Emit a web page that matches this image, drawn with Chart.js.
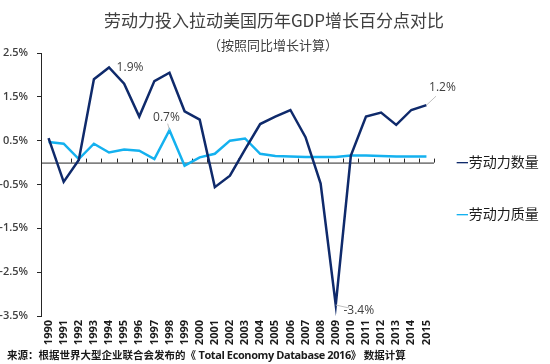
<!DOCTYPE html>
<html>
<head>
<meta charset="utf-8">
<script src="https://cdn.jsdelivr.net/npm/chart.js@4.4.1/dist/chart.umd.min.js"></script>
<style>
    body { margin: 0; background: #fff; }
    #wrap { position: relative; width: 550px; height: 364px; overflow: hidden; }
    #chart { position: absolute; left: 0; top: 0; }
    .txt { position: absolute; white-space: nowrap; font-family: "Noto Sans CJK SC", sans-serif; color: #404040; }
    #title { left: 0; width: 548px; top: 9px; text-align: center; font-size: 17px; line-height: 22px; }
    #subtitle { left: 0; width: 546px; top: 36px; text-align: center; font-size: 13px; line-height: 18px; }
    #source { left: 7px; top: 347px; font-size: 10.5px; font-weight: bold; color: #1a1a1a; line-height: 16px; }
    #source .lat { font-family: "Open Sans", sans-serif; font-size: 11px; letter-spacing: -0.4px; }
    .legend { left: 456px; font-size: 14px; line-height: 18px; color: #1a1a1a; }
    .legend span { font-weight: bold; }
</style>
</head>
<body>
<div id="wrap">
    <canvas id="chart" width="550" height="364"></canvas>
    <div class="txt" id="title">劳动力投入拉动美国历年GDP增长百分点对比</div>
    <div class="txt" id="subtitle">（按照同比增长计算）</div>
    <div class="txt legend" style="top:152px"><span style="color:#0f2a6b">—</span>劳动力数量</div>
    <div class="txt legend" style="top:204px"><span style="color:#14b1ef">—</span>劳动力质量</div>
    <div class="txt" id="source">来源：根据世界大型企业联合会发布的《<span class="lat"> Total Economy Database 2016</span>》 数据计算</div>
</div>
<script>
const years = ['1990', '1991', '1992', '1993', '1994', '1995', '1996', '1997', '1998', '1999',
    '2000', '2001', '2002', '2003', '2004', '2005', '2006', '2007', '2008', '2009',
    '2010', '2011', '2012', '2013', '2014', '2015'];

// 劳动力数量
const laborQuantity = [0.56, -0.44, 0.06, 1.90, 2.17, 1.80, 1.05, 1.86, 2.05, 1.17,
    0.98, -0.56, -0.30, 0.30, 0.88, 1.05, 1.20, 0.58, -0.48, -3.25,
    0.16, 1.05, 1.14, 0.86, 1.20, 1.31];

// 劳动力质量
const laborQuality = [0.47, 0.43, 0.08, 0.43, 0.23, 0.30, 0.27, 0.08, 0.74, -0.07,
    0.12, 0.20, 0.50, 0.55, 0.20, 0.15, 0.14, 0.13, 0.13, 0.13,
    0.16, 0.16, 0.15, 0.14, 0.14, 0.14];

const yTicks = [-3.5, -2.5, -1.5, -0.5, 0.5, 1.5, 2.5];

// callout labels: [series, index, text, dx, dy, leader]
const callouts = [
    [0, 4, '1.9%', 21, 0, false],
    [1, 8, '0.7%', -3, -13, true],
    [0, 25, '1.2%', 16, -18, true],
    [0, 19, '-3.4%', 23, 6, true]
];

const zeroLine = {
    id: 'zeroLine',
    beforeDatasetsDraw(chart) {
        const { ctx, chartArea, scales } = chart;
        const y0 = scales.y.getPixelForValue(0);
        const half = (scales.x.getPixelForValue(1) - scales.x.getPixelForValue(0)) / 2;
        ctx.save();
        ctx.strokeStyle = '#262626';
        ctx.lineWidth = 1;
        ctx.beginPath();
        ctx.moveTo(chartArea.left, y0 + 0.5);
        ctx.lineTo(chartArea.right, y0 + 0.5);
        for (let i = 0; i < years.length; i++) {
            const x = Math.round(scales.x.getPixelForValue(i) + half) + 0.5;
            ctx.moveTo(x, y0);
            ctx.lineTo(x, y0 - 4);
        }
        ctx.stroke();
        ctx.restore();
    },
    afterDatasetsDraw(chart) {
        const { ctx } = chart;
        ctx.save();
        ctx.font = '12px "Open Sans", sans-serif';
        ctx.fillStyle = '#404040';
        ctx.textAlign = 'center';
        ctx.textBaseline = 'middle';
        callouts.forEach(([ds, idx, text, dx, dy, leader]) => {
            const pt = chart.getDatasetMeta(ds).data[idx];
            if (leader) {
                ctx.strokeStyle = '#bfbfbf';
                ctx.lineWidth = 1;
                ctx.beginPath();
                ctx.moveTo(pt.x, pt.y);
                ctx.lineTo(pt.x + dx * 0.6, pt.y + dy * 0.5);
                ctx.stroke();
            }
            ctx.fillText(text, pt.x + dx, pt.y + dy);
        });
        ctx.restore();
    }
};

new Chart(document.getElementById('chart').getContext('2d'), {
    type: 'line',
    data: {
        labels: years,
        datasets: [
            {
                label: '劳动力数量',
                data: laborQuantity,
                borderColor: '#0f2a6b',
                borderWidth: 2.5,
                pointRadius: 0,
                tension: 0
            },
            {
                label: '劳动力质量',
                data: laborQuality,
                borderColor: '#14b1ef',
                borderWidth: 2.5,
                pointRadius: 0,
                tension: 0
            }
        ]
    },
    options: {
        responsive: false,
        animation: false,
        layout: {
            padding: { top: 53, right: 116, left: 0, bottom: 0 }
        },
        plugins: {
            legend: { display: false },
            tooltip: { enabled: false }
        },
        scales: {
            x: {
                offset: true,
                grid: { display: false, drawTicks: false },
                border: { display: false },
                ticks: {
                    minRotation: 90,
                    maxRotation: 90,
                    autoSkip: false,
                    padding: 4,
                    color: '#1a1a1a',
                    font: { family: '"Open Sans", sans-serif', size: 11, weight: 'bold' }
                },
                afterFit(scale) { scale.height = 48; }
            },
            y: {
                min: -3.5,
                max: 2.5,
                afterBuildTicks(scale) {
                    scale.ticks = yTicks.map(v => ({ value: v }));
                },
                grid: { drawOnChartArea: false, tickLength: 4, color: '#262626' },
                border: { display: true, color: '#262626' },
                ticks: {
                    padding: 9,
                    color: '#404040',
                    font: { family: '"Open Sans", sans-serif', size: 11, weight: '600' },
                    callback: v => v.toFixed(1) + '%'
                },
                afterFit(scale) { scale.width = 41; }
            }
        }
    },
    plugins: [zeroLine]
});
</script>
</body>
</html>
